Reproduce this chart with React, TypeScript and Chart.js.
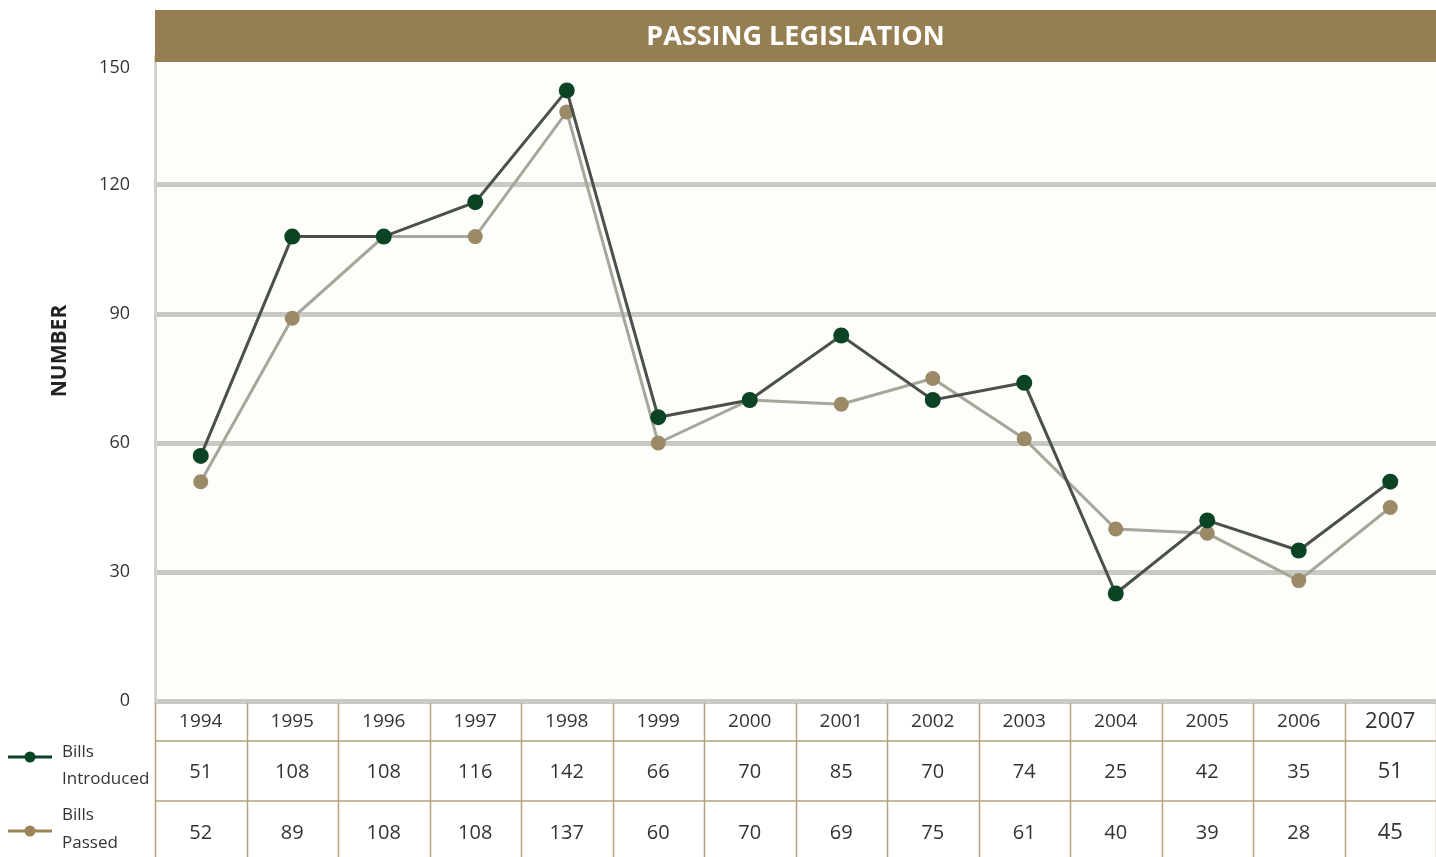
import React, { useEffect, useRef } from "react";
import { Chart, registerables } from "chart.js";

Chart.register(...registerables);

const chartTitle = "PASSING LEGISLATION";
const yAxisTitle = "NUMBER";
const years = ["1994", "1995", "1996", "1997", "1998", "1999", "2000", "2001", "2002", "2003", "2004", "2005", "2006", "2007"];
// values as plotted in the picture
const billsIntroduced = [57, 108, 108, 116, 142, 66, 70, 85, 70, 74, 25, 42, 35, 51];
const billsPassed = [51, 89, 108, 108, 137, 60, 70, 69, 75, 61, 40, 39, 28, 45];
// values as printed in the data table
const introducedTable = ["51", "108", "108", "116", "142", "66", "70", "85", "70", "74", "25", "42", "35", "51"];
const passedTable = ["52", "89", "108", "108", "137", "60", "70", "69", "75", "61", "40", "39", "28", "45"];
const legendIntroduced = ["Bills", "Introduced"];
const legendPassed = ["Bills", "Passed"];
const yMin = 0;
const yMax = 150;
const yStep = 30;

const FONT = "'Open Sans', 'Noto Sans', sans-serif";
const GREEN = "#0b4424";
const TAN = "#998557";
const BAR = "#957f52";
const TABLE_LINE = "#b3a37c";

const decorPlugin = {
  id: "decor",
  beforeDraw(chart: any) {
    const { ctx, chartArea } = chart;
    ctx.save();
    ctx.fillStyle = "#fdfdfa";
    ctx.fillRect(chartArea.left, chartArea.top, chartArea.right - chartArea.left, chartArea.bottom - chartArea.top);
    ctx.restore();
  },
  afterDraw(chart: any) {
    const { ctx, chartArea } = chart;
    const x = chart.scales.x;
    const left = chartArea.left;
    const right = chartArea.right;
    const n = years.length;
    const colW = (right - left) / n;
    ctx.save();

    // title bar
    ctx.fillStyle = BAR;
    ctx.fillRect(left, 10, right - left, 52);
    ctx.fillStyle = "#ffffff";
    ctx.font = `bold 27px ${FONT}`;
    ctx.textAlign = "center";
    ctx.textBaseline = "middle";
    ctx.fillText(chartTitle, (left + right) / 2, 37);

    // top tick label (just under the bar)
    ctx.fillStyle = "#333333";
    ctx.font = `18px ${FONT}`;
    ctx.textAlign = "right";
    ctx.fillText(String(yMax), 130, 68);

    // y axis title
    ctx.save();
    ctx.translate(60, 351);
    ctx.rotate(-Math.PI / 2);
    ctx.font = `bold 21px ${FONT}`;
    ctx.fillStyle = "#222222";
    ctx.textAlign = "center";
    ctx.textBaseline = "middle";
    ctx.fillText(yAxisTitle, 0, 0);
    ctx.restore();

    // data table
    const tTop = chartArea.bottom + 2;
    const r1 = 741;
    const r2 = 801;
    const tBottom = 857;
    ctx.strokeStyle = TABLE_LINE;
    ctx.lineWidth = 1.5;
    ctx.beginPath();
    for (let k = 0; k <= n; k++) {
      const lx = Math.round(left + k * colW) + 0.5;
      ctx.moveTo(lx, tTop);
      ctx.lineTo(lx, tBottom);
    }
    ctx.moveTo(left, r1);
    ctx.lineTo(right, r1);
    ctx.moveTo(left, r2);
    ctx.lineTo(right, r2);
    ctx.stroke();

    ctx.textAlign = "center";
    ctx.textBaseline = "middle";
    ctx.fillStyle = "#333333";
    for (let i = 0; i < n; i++) {
      const cx = x.getPixelForValue(i);
      const last = i === n - 1;
      ctx.font = `${last ? 22 : 19}px ${FONT}`;
      ctx.fillText(years[i], cx, 722);
      ctx.font = `${last ? 22 : 20}px ${FONT}`;
      ctx.fillText(introducedTable[i], cx, 772);
      ctx.fillText(passedTable[i], cx, 833);
    }

    // legend
    const drawLegend = (color: string, y: number, lines: string[], ty: number[]) => {
      ctx.strokeStyle = color;
      ctx.lineWidth = 3;
      ctx.beginPath();
      ctx.moveTo(8, y);
      ctx.lineTo(52, y);
      ctx.stroke();
      ctx.fillStyle = color;
      ctx.beginPath();
      ctx.arc(30, y, 5.5, 0, Math.PI * 2);
      ctx.fill();
      ctx.fillStyle = "#333333";
      ctx.font = `17px ${FONT}`;
      ctx.textAlign = "left";
      ctx.textBaseline = "middle";
      lines.forEach((t, j) => ctx.fillText(t, 62, ty[j]));
    };
    drawLegend(GREEN, 757, legendIntroduced, [752, 779]);
    drawLegend(TAN, 831, legendPassed, [815, 843]);

    ctx.restore();
  },
};

export default function App() {
  const ref = useRef<HTMLCanvasElement | null>(null);
  useEffect(() => {
    document.body.style.margin = "0";
    const canvas = ref.current!;
    const chart = new Chart(canvas, {
      type: "line",
      data: {
        labels: years,
        datasets: [
          {
            label: "Bills Introduced",
            data: billsIntroduced,
            borderColor: "#4a514b",
            borderWidth: 3,
            pointBackgroundColor: GREEN,
            pointBorderColor: GREEN,
            pointRadius: 8,
            pointBorderWidth: 0,
            tension: 0,
          },
          {
            label: "Bills Passed",
            data: billsPassed,
            borderColor: "#a7a69b",
            borderWidth: 3,
            pointBackgroundColor: "#9a8a66",
            pointBorderColor: "#9a8a66",
            pointRadius: 7.5,
            pointBorderWidth: 0,
            tension: 0,
          },
        ],
      },
      options: {
        responsive: false,
        animation: false,
        devicePixelRatio: 1,
        layout: { autoPadding: false, padding: { left: 0, right: 0, top: 56, bottom: 156 } },
        plugins: { legend: { display: false }, tooltip: { enabled: false }, title: { display: false } },
        scales: {
          x: {
            type: "category",
            display: false,
            offset: true,
          },
          y: {
            min: yMin,
            max: yMax,
            afterFit: (s: any) => {
              s.width = 155;
            },
            ticks: {
              stepSize: yStep,
              padding: 25,
              color: "#333333",
              font: { family: FONT, size: 18 },
              callback: (v: any) => (v === yMax ? "" : String(v)),
            },
            border: { display: true, color: "#d2d2ca", width: 3 },
            grid: {
              drawTicks: false,
              lineWidth: 5,
              color: (c: any) => (c.tick && c.tick.value === yMax ? "rgba(0,0,0,0)" : "#c9c9c4"),
            },
          },
        },
      },
      plugins: [decorPlugin],
    });
    return () => chart.destroy();
  }, []);
  return (
    <div style={{ position: "fixed", left: 0, top: 0, width: 1436, height: 857, background: "#ffffff" }}>
      <canvas ref={ref} width={1436} height={857} style={{ width: 1436, height: 857 }} />
    </div>
  );
}
